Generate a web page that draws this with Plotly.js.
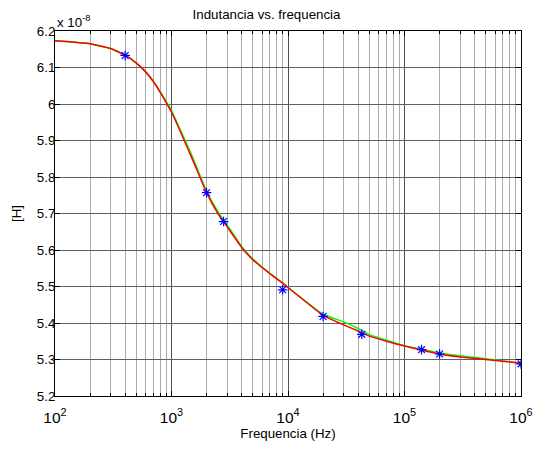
<!DOCTYPE html>
<html>
<head>
<meta charset="utf-8">
<script src="https://cdn.plot.ly/plotly-3.0.1.min.js"></script>
<style>html,body{margin:0;padding:0;background:#fff;}#chart{width:533px;height:450px;}</style>
</head>
<body>
<div id="chart"></div>
<script>
// Frequencies (Hz) for fitted curves
const freq = [100, 200, 300, 400, 500, 600, 700, 800, 900, 1000, 1500, 2000, 2500, 3000, 4000, 5000, 6000, 7000, 8000, 9000, 10000, 20000, 30000, 40000, 50000, 70000, 100000, 200000, 300000, 500000, 1000000];
// Inductance in units of 1e-8 H
const redCurve = [6.173, 6.165, 6.152, 6.134, 6.112, 6.088, 6.061, 6.032, 6.004, 5.978, 5.851, 5.757, 5.700, 5.664, 5.607, 5.573, 5.552, 5.535, 5.521, 5.509, 5.497, 5.421, 5.395, 5.378, 5.364, 5.350, 5.337, 5.315, 5.307, 5.300, 5.290];
const greenCurve = [6.173, 6.165, 6.152, 6.134, 6.112, 6.088, 6.062, 6.034, 6.007, 5.982, 5.858, 5.761, 5.706, 5.669, 5.610, 5.575, 5.553, 5.536, 5.522, 5.510, 5.498, 5.424, 5.403, 5.385, 5.368, 5.353, 5.338, 5.318, 5.310, 5.302, 5.290];
// Measured points
const measFreq = [400, 2000, 2800, 9000, 20000, 43000, 140000, 200000, 1000000];
const measVal = [6.133, 5.757, 5.678, 5.491, 5.418, 5.369, 5.327, 5.315, 5.288];
// Axis tick labels
const xTickVals = [100, 1000, 10000, 100000, 1000000];
const xTickText = ['10<sup>2</sup>', '10<sup>3</sup>', '10<sup>4</sup>', '10<sup>5</sup>', '10<sup>6</sup>'];

const traces = [
  {x: freq, y: greenCurve, mode: 'lines', line: {color: '#00ff00', width: 1.5, shape: 'spline', smoothing: 0.3}, hoverinfo: 'skip'},
  {x: freq, y: redCurve, mode: 'lines', line: {color: '#ff0000', width: 1.5, shape: 'spline', smoothing: 0.3}, hoverinfo: 'skip'},
  {x: measFreq, y: measVal, mode: 'markers', marker: {symbol: 'asterisk-open', size: 8, color: '#0000ff', line: {color: '#0000ff', width: 1.2}}}
];

const fontFam = 'Liberation Sans, Arial, sans-serif';
const fs = 13.3;
const layout = {
  width: 533, height: 450,
  paper_bgcolor: '#ffffff', plot_bgcolor: '#ffffff',
  margin: {l: 55, r: 12, t: 31, b: 54},
  showlegend: false,
  font: {family: fontFam, size: fs, color: '#000'},
  title: {text: 'Indutancia vs. frequencia', font: {family: fontFam, size: fs, color: '#000'}, x: 0.5, xanchor: 'center', y: 0.968, yanchor: 'middle'},
  xaxis: {
    type: 'log', range: [2, 6],
    tickmode: 'array', tickvals: xTickVals, ticktext: xTickText,
    showgrid: true, gridcolor: '#505050', gridwidth: 1,
    ticks: 'inside', ticklen: 5, tickcolor: '#000',
    ticklabelstandoff: 7,
    minor: {dtick: 'D1', showgrid: true, gridcolor: '#aaaaaa', gridwidth: 1, ticks: 'inside', ticklen: 3, tickcolor: '#000'},
    showline: true, linecolor: '#000', linewidth: 1, mirror: 'ticks',
    zeroline: false, automargin: false,
    tickfont: {family: fontFam, size: 15.5, color: '#000'},
    title: {text: 'Frequencia (Hz)', font: {family: fontFam, size: fs, color: '#000'}, standoff: 2}
  },
  yaxis: {
    range: [5.2, 6.2], dtick: 0.1, tick0: 5.2,
    showgrid: true, gridcolor: '#606060', gridwidth: 1,
    ticks: 'inside', ticklen: 5, tickcolor: '#000',
    ticklabelstandoff: -4,
    showline: true, linecolor: '#000', linewidth: 1, mirror: 'ticks',
    zeroline: false, automargin: false,
    tickfont: {family: fontFam, size: fs, color: '#000'},
    title: {text: '[H]', font: {family: fontFam, size: fs, color: '#000'}, standoff: 12}
  },
  annotations: [
    {text: 'x 10<sup>-8</sup>', xref: 'paper', yref: 'paper', x: 0, y: 1, xanchor: 'left', yanchor: 'bottom', yshift: -1, showarrow: false, font: {family: fontFam, size: fs, color: '#000'}}
  ]
};

Plotly.newPlot('chart', traces, layout, {displayModeBar: false, staticPlot: true});
</script>
</body>
</html>
